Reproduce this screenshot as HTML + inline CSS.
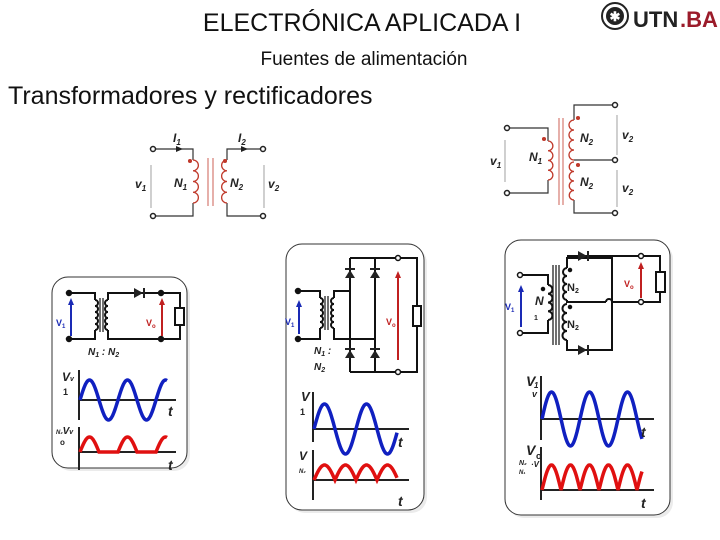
<!DOCTYPE html>
<html><head><meta charset="utf-8"><style>
body{margin:0;width:720px;height:540px;background:#fff;overflow:hidden;font-family:"Liberation Sans",sans-serif}
svg{position:absolute;left:0;top:0}
</style></head><body>
<svg id="s" width="720" height="540" viewBox="0 0 720 540" font-family="Liberation Sans, sans-serif">
<text x="362" y="31" font-size="25" text-anchor="middle" fill="#111">ELECTRÓNICA APLICADA I</text>
<text x="364" y="65" font-size="19" text-anchor="middle" fill="#111">Fuentes de alimentación</text>
<text x="8" y="104" font-size="25" fill="#111">Transformadores y rectificadores</text>
<circle cx="615" cy="16" r="13" fill="none" stroke="#222" stroke-width="2"/>
<circle cx="615" cy="16" r="9" fill="#222"/>
<text x="615" y="21" font-size="13" text-anchor="middle" fill="#fff" font-weight="bold">✱</text>
<text x="633" y="27" font-size="22" fill="#222" font-weight="bold">UTN</text>
<text x="680" y="27" font-size="22" fill="#9b1b2a" font-weight="bold">.BA</text>
<g id="g"></g>
</svg>
<script>
var g=document.getElementById('g'),h='';
function P(d,c,w,f){h+='<path d="'+d+'" stroke="'+(c||'#222')+'" stroke-width="'+(w||1.5)+'" fill="'+(f||'none')+'"/>';}
function T(x,y,t,s,c,st){h+='<text x="'+x+'" y="'+y+'" font-size="'+(s||11)+'" fill="'+(c||'#222')+'" font-weight="bold" font-style="'+(st||'italic')+'">'+t+'</text>';}
function C(x,y,r,c,f){h+='<circle cx="'+x+'" cy="'+y+'" r="'+r+'" fill="'+(f||'#fff')+'" stroke="'+(c||'#222')+'" stroke-width="1.5"/>';}
function coil(x,y1,y2,n,right,c,w){var s=(y2-y1)/n,d='M'+x+' '+y1;for(var i=0;i<n;i++)d+=' a'+(s/2)+' '+(s/2)+' 0 0 '+(right?1:0)+' 0 '+s;P(d,c,w);}
function arrow(x,y1,y2,c,w){P('M'+x+' '+y1+'V'+(y2+5),c,w);h+='<path d="M'+(x-3)+' '+(y2+7)+'L'+x+' '+y2+'L'+(x+3)+' '+(y2+7)+'z" fill="'+c+'"/>';}
function diode(x,y,dir){
 if(dir=='r'){h+='<path d="M'+(x-5)+' '+(y-5)+'L'+(x+4)+' '+y+'L'+(x-5)+' '+(y+5)+'z" fill="#222"/>';P('M'+(x+5)+' '+(y-5)+'V'+(y+5),'#222',2);}
 else{h+='<path d="M'+(x-5)+' '+(y+4)+'L'+x+' '+(y-4)+'L'+(x+5)+' '+(y+4)+'z" fill="#222"/>';P('M'+(x-5)+' '+(y-5)+'H'+(x+5),'#222',2);}}
function wave(x0,y0,A,per,x1,type,c){var d='';for(var x=x0;x<=x1;x+=0.5){var v=Math.sin(2*Math.PI*(x-x0)/per);if(type==1)v=Math.max(v,0);if(type==2)v=Math.abs(v);d+=(d?'L':'M')+x.toFixed(1)+' '+(y0-A*v).toFixed(1);}P(d,c,3.5);}
function axes(x,yt,yb,y0,x1){P('M'+x+' '+yt+'V'+yb,'#222',2);P('M'+x+' '+y0+'H'+x1,'#222',2);}
function box(x,y,w,hh){h+='<rect x="'+(x+3)+'" y="'+(y+3)+'" width="'+w+'" height="'+hh+'" rx="16" fill="#ddd" opacity="0.6"/>';h+='<rect x="'+x+'" y="'+y+'" width="'+w+'" height="'+hh+'" rx="16" fill="#fff" stroke="#333" stroke-width="1"/>';}

var R='#c0392b';
P('M156 149H193V160','#333',1.2);P('M193 203V216H156','#333',1.2);
coil(193,160,203,4,true,R,1.3);
P('M208 158V206M213 158V206',R,0.8);
P('M227 160V149H260','#333',1.2);P('M227 203V216H260','#333',1.2);
coil(227,160,203,4,false,R,1.3);
h+='<path d="M176 146L183 149L176 152z" fill="#222"/><path d="M241 146L248 149L241 152z" fill="#222"/>';
C(153,149,2.5);C(153,216,2.5);C(263,149,2.5);C(263,216,2.5);
C(190,161,1.3,R,R);C(225,161,1.3,R,R);
P('M151 208V165','#888',0.8);P('M264 208V165','#888',0.8);
T(173,142,'I<tspan font-size="8" dy="3">1</tspan>',12);T(238,142,'I<tspan font-size="8" dy="3">2</tspan>',12);
T(135,188,'v<tspan font-size="8" dy="3">1</tspan>',12);T(174,187,'N<tspan font-size="8" dy="3">1</tspan>',12);
T(230,187,'N<tspan font-size="8" dy="3">2</tspan>',12);T(268,188,'v<tspan font-size="8" dy="3">2</tspan>',12);

P('M510 128H548V141','#333',1.2);P('M548 180V193H510','#333',1.2);
coil(548,141,180,4,true,R,1.3);
P('M559 118V205M563 118V205',R,0.8);
P('M574 120V105H613','#333',1.2);P('M574 160H613','#333',1.2);P('M574 200V213H613','#333',1.2);
coil(574,120,160,4,false,R,1.3);coil(574,162,200,4,false,R,1.3);
C(507,128,2.5);C(507,193,2.5);C(615,105,2.5);C(615,160,2.5);C(615,213,2.5);
C(544,139,1.3,R,R);C(578,118,1.3,R,R);C(578,165,1.3,R,R);
P('M505 182V140','#888',0.8);P('M617 155V115','#888',0.8);P('M617 207V170','#888',0.8);
T(490,165,'v<tspan font-size="8" dy="3">1</tspan>',12);T(529,161,'N<tspan font-size="8" dy="3">1</tspan>',12);
T(580,142,'N<tspan font-size="8" dy="3">2</tspan>',12);T(580,186,'N<tspan font-size="8" dy="3">2</tspan>',12);
T(622,139,'v<tspan font-size="8" dy="3">2</tspan>',12);T(622,192,'v<tspan font-size="8" dy="3">2</tspan>',12);

box(52,277,135,191);
P('M69 293H95V300M95 330V339H69','#111',2);coil(95,300,330,5,true,'#111',2);
P('M100 298V332M103 298V332','#111',1.2);
P('M108 300V293H180V308M180 325V339H108V330','#111',2);coil(108,300,330,5,false,'#111',2);
h+='<rect x="175" y="308" width="9" height="17" fill="#fff" stroke="#111" stroke-width="2"/>';
diode(139,293,'r');
C(69,293,2.5,'#111','#111');C(69,339,2.5,'#111','#111');C(161,293,2.5,'#111','#111');C(161,339,2.5,'#111','#111');
arrow(71,336,298,'#1a2ab5',2);arrow(162,336,298,'#c02020',2);
T(56,326,'V<tspan font-size="6" dy="2">1</tspan>',9,'#1a2ab5','normal');T(146,326,'V<tspan font-size="6" dy="2">o</tspan>',9,'#c02020','normal');
T(88,355,'N<tspan font-size="7" dy="2">1</tspan><tspan dy="-2"> : N</tspan><tspan font-size="7" dy="2">2</tspan>',10,'#222','italic');
axes(79,370,420,400,176);wave(80,400,20,38,167,0,'#1020c0');
axes(79,427,470,452,176);wave(80,452,15,38,167,1,'#e01010');
T(62,381,'V<tspan font-size="7">v</tspan>',12);T(63,395,'1',9,'#222','normal');T(168,416,'t',14);T(168,470,'t',14);
T(56,434,'<tspan font-size="6">N₂</tspan>V<tspan font-size="7">v</tspan>',10);T(60,445,'o',8,'#222','normal');

box(286,244,138,266);
P('M298 291H320V298M320 328V339H298','#111',2);coil(320,298,328,5,true,'#111',2);
P('M325 296V330M328 296V330','#111',1.2);
P('M334 298V291H350M334 328V339H375','#111',2);coil(334,298,328,5,false,'#111',2);
P('M350 258V372M375 258V372M350 258H417V306M417 326V372H350','#111',2);
h+='<rect x="413" y="306" width="8" height="20" fill="#fff" stroke="#111" stroke-width="2"/>';
diode(350,274,'u');diode(375,274,'u');diode(350,354,'u');diode(375,354,'u');
C(298,291,2.5,'#111','#111');C(298,339,2.5,'#111','#111');C(398,258,2.5,'#111','#fff');C(398,372,2.5,'#111','#fff');
arrow(299,334,300,'#1a2ab5',2);arrow(398,360,271,'#c02020',2);
T(285,325,'V<tspan font-size="6" dy="2">1</tspan>',9,'#1a2ab5','normal');T(386,325,'V<tspan font-size="6" dy="2">o</tspan>',9,'#c02020','normal');
T(314,354,'N<tspan font-size="7" dy="2">1</tspan><tspan dy="-2"> :</tspan>',10);T(314,370,'N<tspan font-size="7" dy="2">2</tspan>',10);
axes(313,392,442,429,409);wave(314,429,25,42,397,0,'#1020c0');
axes(313,450,500,480,409);wave(314,480,15,42,397,2,'#e01010');
T(301,401,'V',13);T(300,415,'1',9,'#222','normal');T(398,447,'t',14);T(398,506,'t',14);
T(299,460,'V',12);T(299,473,'<tspan font-size="6">N₂</tspan>',8);

box(505,240,165,275);
P('M520 275H548V285M548 320V333H520','#111',2);coil(548,285,320,4,true,'#111',2);
P('M553 265V345M556 265V345M559 265V345','#111',1.2);
P('M567 268V258H612V350H567V340M567 300V302H606M612 302H660V293M660 272V256H567','#111',2);
P('M606 302a3 3 0 0 1 6 0','#111',2);
coil(567,268,300,4,false,'#111',2);coil(567,304,340,4,false,'#111',2);
h+='<rect x="656" y="272" width="9" height="20" fill="#fff" stroke="#111" stroke-width="2"/>';
diode(583,256,'r');diode(583,350,'r');
C(520,275,2.5,'#111','#fff');C(520,333,2.5,'#111','#fff');C(641,256,2.5,'#111','#fff');C(641,302,2.5,'#111','#fff');
C(543,289,1.5,'#111','#111');C(570,270,1.5,'#111','#111');C(570,307,1.5,'#111','#111');
arrow(521,327,285,'#1a2ab5',2);arrow(641,298,262,'#c02020',2);
T(505,310,'V<tspan font-size="6" dy="2">1</tspan>',9,'#1a2ab5','normal');T(624,287,'V<tspan font-size="6" dy="2">o</tspan>',9,'#c02020','normal');
T(567,291,'N<tspan font-size="7" dy="2">2</tspan>',11,'#222','normal');T(567,328,'N<tspan font-size="7" dy="2">2</tspan>',11,'#222','normal');
T(535,305,'N',12,'#222','italic');T(534,320,'1',7,'#222','normal');
axes(541,376,440,419,654);wave(542,419,27,38,642,0,'#1020c0');
axes(541,447,500,490,654);wave(542,490,25,38,642,2,'#e01010');
T(526,386,'V',14);T(534,388,'<tspan font-size="8">1</tspan>',8);T(532,397,'v',9);
T(641,437,'t',14);T(641,508,'t',14);
T(526,455,'V',14);T(536,459,'o',9,'#222','normal');T(519,465,'N₂',7);T(519,474,'N₁',6);T(531,467,'·V',8);
g.innerHTML=h;
</script>
</body></html>
